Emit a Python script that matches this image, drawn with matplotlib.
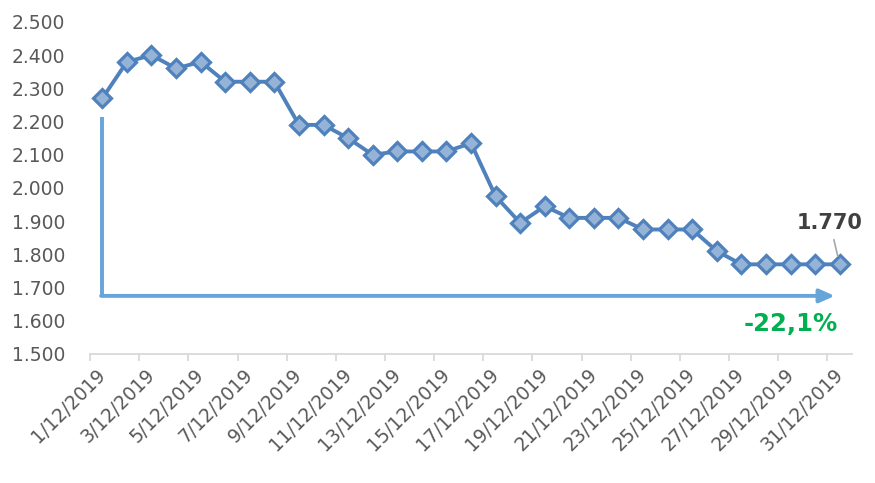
import numpy as np
import matplotlib
matplotlib.use("Agg")
import matplotlib.pyplot as plt

# gia tri theo ngay, thang 12/2019
dates = ["%d/12/2019" % d for d in range(1, 32)]
prices = [2270, 2380, 2400, 2360, 2380, 2320, 2320, 2320, 2190, 2190,
          2150, 2100, 2110, 2110, 2110, 2135, 1975, 1895, 1945, 1910,
          1910, 1910, 1875, 1875, 1875, 1810, 1770, 1770, 1770, 1770, 1770]
yticks = [1500, 1600, 1700, 1800, 1900, 2000, 2100, 2200, 2300, 2400, 2500]
change_label = "-22,1%"
last_label = "1.770"

plt.rcParams['font.family'] = ['DejaVu Sans']

fig = plt.figure(figsize=(8.75, 4.83), dpi=100)
ax = fig.add_axes([0.1029, 0.2671, 0.8708, 0.6874])

x = np.arange(len(dates))
ax.plot(x, prices, color="#4F81BD", lw=2.8, marker="D", ms=9,
        mfc="#95B3D7", mec="#4F81BD", mew=2.3, zorder=3)

# mui ten giam
ax.plot([0, 0], [1675, 2215], color="#65A5DA", lw=2.8, solid_capstyle="butt", zorder=2)
ax.annotate("", xy=(29.8, 1675), xytext=(-0.05, 1675),
            arrowprops=dict(arrowstyle="-|>,head_length=0.9,head_width=0.4",
                            color="#65A5DA", lw=2.8, shrinkA=0, shrinkB=0), zorder=2)
ax.text(28.0, 1590, change_label, color="#00B050", fontsize=17.5, fontweight="bold",
        ha="center", va="center")

ax.annotate(last_label, xy=(30, 1770), xytext=(29.6, 1895),
            color="#404040", fontsize=15, fontweight="bold", ha="center", va="center",
            arrowprops=dict(arrowstyle="-", color="#A6A6A6", lw=1.2,
                            shrinkA=3, shrinkB=6))

ax.set_xlim(-0.5, 30.5)
ax.set_ylim(1500, 2500)
ax.set_yticks(yticks)
ax.set_yticklabels(["%d.%03d" % (v // 1000, v % 1000) for v in yticks])

# nhan ngay lech trai mot chut nhu ban goc
ax.set_xticks(x[::2] - 0.25)
ax.set_xticklabels(dates[::2], rotation=45, ha="right", va="top", rotation_mode="anchor")
ax.set_xticks(np.arange(-0.5, 30, 2), minor=True)
ax.tick_params(axis="x", which="major", length=0, pad=8, labelsize=13.5, colors="#595959")
ax.tick_params(axis="x", which="minor", length=5, width=1.3, color="#D9D9D9")
ax.tick_params(axis="y", length=0, labelsize=13.5, colors="#595959", pad=18)

for s in ["top", "right", "left"]:
    ax.spines[s].set_visible(False)
ax.spines["bottom"].set_color("#D9D9D9")
ax.spines["bottom"].set_linewidth(1.3)

fig.savefig("out.png", dpi=100)
